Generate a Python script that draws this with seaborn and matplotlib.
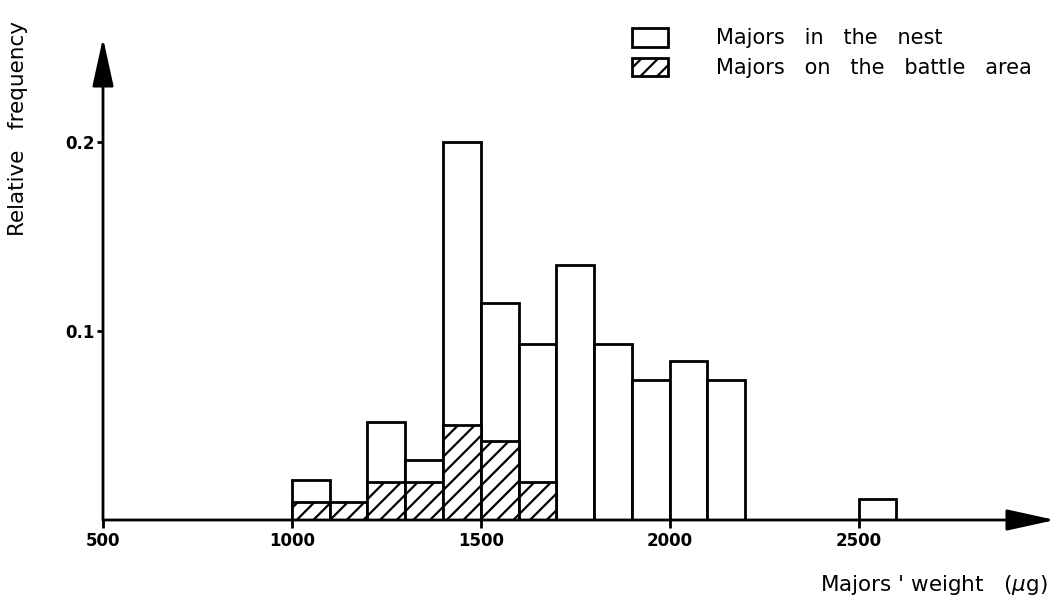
import numpy as np
import matplotlib
matplotlib.use("Agg")
import matplotlib.pyplot as plt
from matplotlib.patches import Patch
import seaborn as sns

# bins of 100 ug from 1000 to 2600
bin_starts = [1000, 1100, 1200, 1300, 1400, 1500, 1600, 1700,
              1800, 1900, 2000, 2100, 2200, 2300, 2400, 2500]
nest = [0.021, 0.0, 0.052, 0.032, 0.200, 0.115, 0.093, 0.135,
        0.093, 0.074, 0.084, 0.074, 0.0, 0.0, 0.0, 0.011]
battle = [0.0095, 0.0095, 0.020, 0.020, 0.050, 0.042, 0.020, 0.0,
          0.0, 0.0, 0.0, 0.0, 0.0, 0.0, 0.0, 0.0]
xticks = [500, 1000, 1500, 2000, 2500]
yticks = [0.1, 0.2]
legend_labels = ["Majors   in   the   nest", "Majors   on   the   battle   area"]

sns.set_style("white")
plt.rcParams["hatch.linewidth"] = 1.6
plt.rcParams["text.color"] = "black"
plt.rcParams["xtick.color"] = "black"
plt.rcParams["ytick.color"] = "black"

fig = plt.figure(figsize=(10.58, 6.08), dpi=100)
ax = fig.add_axes([103 / 1058, 88 / 608, 952 / 1058, 482 / 608])

edges = bin_starts + [bin_starts[-1] + 100]
centers = [b + 50 for b in bin_starts]

# white bars first, hatched on top
sns.histplot(x=centers, weights=nest, bins=edges, ax=ax, color="white",
             edgecolor="black", linewidth=2, alpha=1)
sns.histplot(x=centers, weights=battle, bins=edges, ax=ax, color="white",
             edgecolor="black", linewidth=2, alpha=1, hatch="//")

ax.set_xlim(500, 3020)
ax.set_ylim(0, 0.255)
ax.set_xlabel("")
ax.set_ylabel("")
for s in ax.spines.values():
    s.set_visible(False)

# axes drawn as arrows
arrow = dict(arrowstyle="-|>,head_length=1.5,head_width=0.33", lw=2,
             color="black", shrinkA=0, shrinkB=0, mutation_scale=20)
ax.annotate("", xy=(3020, 0), xytext=(500, 0), arrowprops=arrow,
            annotation_clip=False)
ax.annotate("", xy=(500, 0.255), xytext=(500, 0), arrowprops=arrow,
            annotation_clip=False)

tick_font = dict(family="DejaVu Sans", weight="bold", size=12)
ax.set_xticks(xticks)
ax.set_xticklabels([str(t) for t in xticks], fontdict=tick_font)
ax.set_yticks(yticks)
ax.set_yticklabels(["0.1", "0.2"], fontdict=tick_font)
ax.tick_params(axis="x", bottom=True, direction="out", length=6, width=2,
               pad=3)
ax.tick_params(axis="y", left=True, direction="out", length=4, width=2,
               pad=2)

fig.text(18 / 1058, 1 - 128 / 608, "Relative   frequency", rotation=90,
         ha="center", va="center", fontsize=15.5, family="DejaVu Sans")
fig.text(1048 / 1058, 1 - 585 / 608, r"Majors ' weight   ($\mu$g)",
         ha="right", va="center", fontsize=15.5, family="DejaVu Sans")

handles = [Patch(facecolor="white", edgecolor="black", lw=2),
           Patch(facecolor="white", edgecolor="black", lw=2, hatch="//")]
fig.legend(handles=handles, labels=legend_labels, loc="upper left",
           bbox_to_anchor=(632 / 1058, 1 - 28 / 608), frameon=False,
           fontsize=15, handlelength=1.75, handleheight=1.0,
           handletextpad=2.3, labelspacing=0.44, borderpad=0,
           borderaxespad=0)

fig.savefig("out.png", dpi=100)
